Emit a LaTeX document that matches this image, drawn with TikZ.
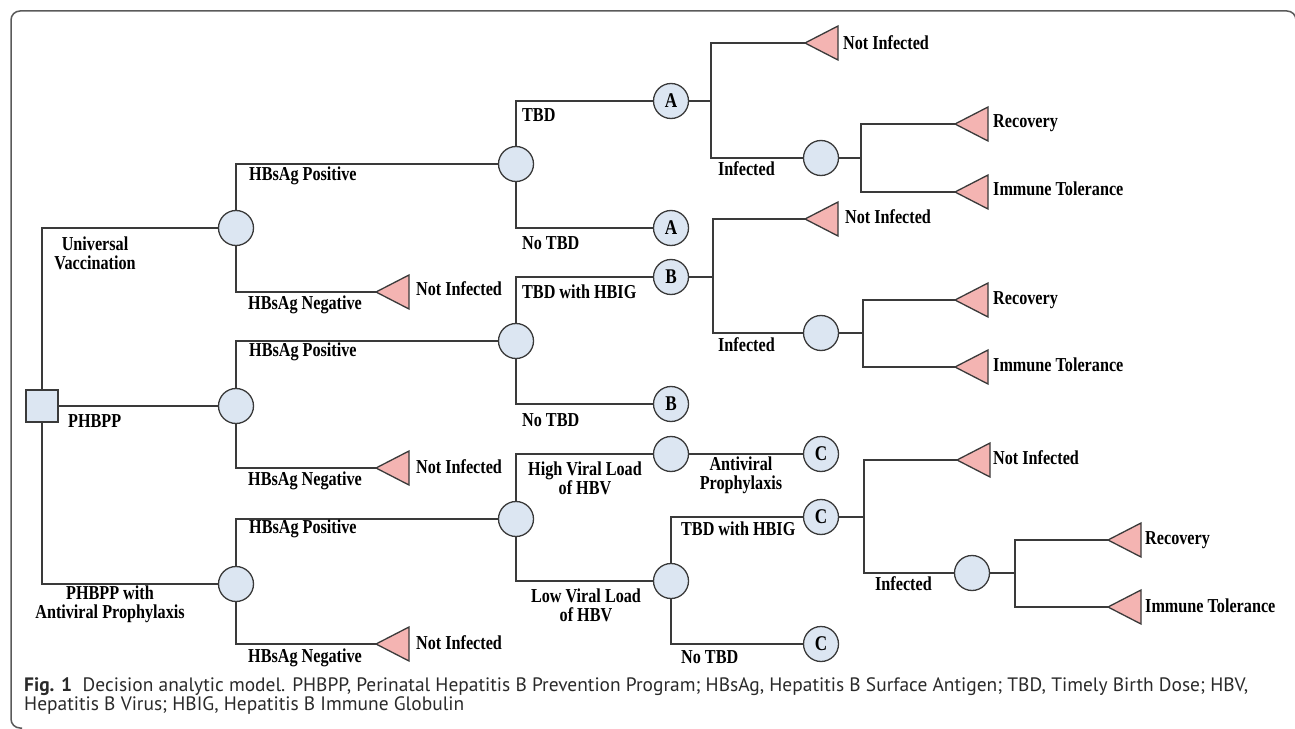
\documentclass[tikz,border=0pt]{standalone}
\usepackage{fontspec}
\setmainfont{Liberation Serif}
\newfontfamily\treefont[FakeStretch=0.82]{Liberation Serif}
\newfontfamily\capfont{PT Sans}
\usetikzlibrary{calc}
\definecolor{linec}{HTML}{3A3A3A}
\definecolor{chance}{HTML}{DCE6F2}
\definecolor{term}{HTML}{F4B4B2}
\definecolor{framec}{HTML}{5A5A5A}
\definecolor{capc}{HTML}{2A2A2A}
\begin{document}
\begin{tikzpicture}[x=1bp,y=-1bp,
  edge/.style={draw=linec, line width=1.3bp},
  chancenode/.style={circle, draw=linec, line width=1.3bp, fill=chance, minimum size=35bp, inner sep=0pt, font={\treefont\bfseries\fontsize{21}{21}\selectfont}},
  decnode/.style={rectangle, draw=linec, line width=1.3bp, fill=chance, minimum size=32bp, inner sep=0pt},
  termtri/.style={draw=linec, line width=1.3bp, fill=term, line join=miter},
  lbl/.style={font={\treefont\bfseries\fontsize{19.8}{19}\selectfont}, inner sep=0pt, anchor=base west, text=black},
  mlbl/.style={font={\treefont\bfseries\fontsize{19.8}{19}\selectfont}, inner sep=0pt, align=center, text=black},
  caplbl/.style={font={\capfont\fontsize{19.5}{19}\selectfont}, inner sep=0pt, anchor=base west, text=capc},
  ]
\useasboundingbox (0,0) rectangle (1295,729);
% frame
\draw[framec, line width=1.5bp, rounded corners=9bp] (22,728) -- (11,728) -- (11,11) -- (1296,11) -- (1296,40);

% nodes
\node[decnode] (D) at (42,406) {};
\node[chancenode] (c1) at (236,228) {};
\node[chancenode] (c2) at (236,406) {};
\node[chancenode] (c3) at (236,584) {};
\node[chancenode] (c11) at (516,164) {};
\node[chancenode] (c21) at (516,341) {};
\node[chancenode] (c31) at (516,519) {};
\node[chancenode] (A1) at (671,101) {A};
\node[chancenode] (A2) at (671,228) {A};
\node[chancenode] (B1) at (671,277) {B};
\node[chancenode] (B2) at (671,404) {B};
\node[chancenode] (hv) at (671,454) {};
\node[chancenode] (lv) at (671,581) {};
\node[chancenode] (C1) at (821,454) {C};
\node[chancenode] (C2) at (821,517) {C};
\node[chancenode] (C3) at (821,644) {C};
\node[chancenode] (inf1) at (821,158) {};
\node[chancenode] (inf2) at (821,333) {};
\node[chancenode] (inf3) at (972,573) {};

% junction coordinates
\coordinate (jA) at (711,101);
\coordinate (jI1) at (861,158);
\coordinate (jB) at (713,277);
\coordinate (jI2) at (863,333);
\coordinate (jC) at (864,517);
\coordinate (jI3) at (1015,573);

% terminal tips
\coordinate (nia) at (376,292);
\coordinate (nib) at (376,468);
\coordinate (nic) at (376,644);
\coordinate (ni1) at (805,43);
\coordinate (rec1) at (955,124);
\coordinate (it1) at (955,192);
\coordinate (ni2) at (805,219);
\coordinate (rec2) at (955,300);
\coordinate (it2) at (955,367);
\coordinate (ni3) at (957,460);
\coordinate (rec3) at (1108,540);
\coordinate (it3) at (1108,607);

% edges
\draw[edge] (D) |- (c1);
\draw[edge] (D) -- (c2);
\draw[edge] (D) |- (c3);
\draw[edge] (c1) |- (c11);
\draw[edge] (c1) |- (nia);
\draw[edge] (c2) |- (c21);
\draw[edge] (c2) |- (nib);
\draw[edge] (c3) |- (c31);
\draw[edge] (c3) |- (nic);
\draw[edge] (c11) |- (A1);
\draw[edge] (c11) |- (A2);
\draw[edge] (c21) |- (B1);
\draw[edge] (c21) |- (B2);
\draw[edge] (c31) |- (hv);
\draw[edge] (c31) |- (lv);
\draw[edge] (hv) -- (C1);
\draw[edge] (lv) |- (C2);
\draw[edge] (lv) |- (C3);
\draw[edge] (A1) -- (jA);
\draw[edge] (jA) |- (ni1);
\draw[edge] (jA) |- (inf1);
\draw[edge] (inf1) -- (jI1);
\draw[edge] (jI1) |- (rec1);
\draw[edge] (jI1) |- (it1);
\draw[edge] (B1) -- (jB);
\draw[edge] (jB) |- (ni2);
\draw[edge] (jB) |- (inf2);
\draw[edge] (inf2) -- (jI2);
\draw[edge] (jI2) |- (rec2);
\draw[edge] (jI2) |- (it2);
\draw[edge] (C2) -- (jC);
\draw[edge] (jC) |- (ni3);
\draw[edge] (jC) |- (inf3);
\draw[edge] (inf3) -- (jI3);
\draw[edge] (jI3) |- (rec3);
\draw[edge] (jI3) |- (it3);

% terminal triangles
\foreach \t in {nia,nib,nic,ni1,rec1,it1,ni2,rec2,it2,ni3,rec3,it3}{
  \draw[termtri] (\t) -- ++(33,-17) -- ++(0,34) -- cycle;
}

% labels
\node[mlbl] (lUV) at (95,253) {Universal\\Vaccination};
\node[lbl] (lPH) at (68,427) {PHBPP};
\node[mlbl] (lPHA) at (110,604) {PHBPP with\\Antiviral Prophylaxis};
\node[lbl] (lp1) at (249,181) {HBsAg Positive};
\node[lbl] (lp2) at (249,356) {HBsAg Positive};
\node[lbl] (lp3) at (249,533) {HBsAg Positive};
\node[lbl] (ln1) at (248,309) {HBsAg Negative};
\node[lbl] (ln2) at (248,485) {HBsAg Negative};
\node[lbl] (ln3) at (248,662) {HBsAg Negative};
\node[lbl] (tna) at (416,295) {Not Infected};
\node[lbl] (tnb) at (416,473) {Not Infected};
\node[lbl] (tnc) at (416,649) {Not Infected};
\node[lbl] (lT1) at (522,122) {TBD};
\node[lbl] (lN1) at (522,250) {No TBD};
\node[lbl] (lT2) at (522,298) {TBD with HBIG};
\node[lbl] (lN2) at (522,426) {No TBD};
\node[mlbl] (lHV) at (585,478) {High Viral Load\\of HBV};
\node[mlbl] (lLV) at (586,605) {Low Viral Load\\of HBV};
\node[mlbl] (lAP) at (741,475) {Antiviral\\Prophylaxis};
\node[lbl] (lT3) at (681,535) {TBD with HBIG};
\node[lbl] (lN3) at (681,663) {No TBD};
\node[lbl] (tn1) at (843,50) {Not Infected};
\node[lbl] (tn2) at (845,224) {Not Infected};
\node[lbl] (tn3) at (993,464) {Not Infected};
\node[lbl] (li1) at (718,176) {Infected};
\node[lbl] (li2) at (718,351) {Infected};
\node[lbl] (li3) at (875,590) {Infected};
\node[lbl] (tr1) at (993,128) {Recovery};
\node[lbl] (tr2) at (993,304) {Recovery};
\node[lbl] (tr3) at (1145,544) {Recovery};
\node[lbl] (tt1) at (993,196) {Immune Tolerance};
\node[lbl] (tt2) at (993,371) {Immune Tolerance};
\node[lbl] (tt3) at (1145,612) {Immune Tolerance};

% caption
\node[caplbl] (cap1) at (24,691) {\textbf{Fig. 1}\hspace{0.55em}Decision analytic model. PHBPP, Perinatal Hepatitis B Prevention Program; HBsAg, Hepatitis B Surface Antigen; TBD, Timely Birth Dose; HBV,};
\node[caplbl] (cap2) at (24,710) {Hepatitis B Virus; HBIG, Hepatitis B Immune Globulin};
\end{tikzpicture}
\end{document}
